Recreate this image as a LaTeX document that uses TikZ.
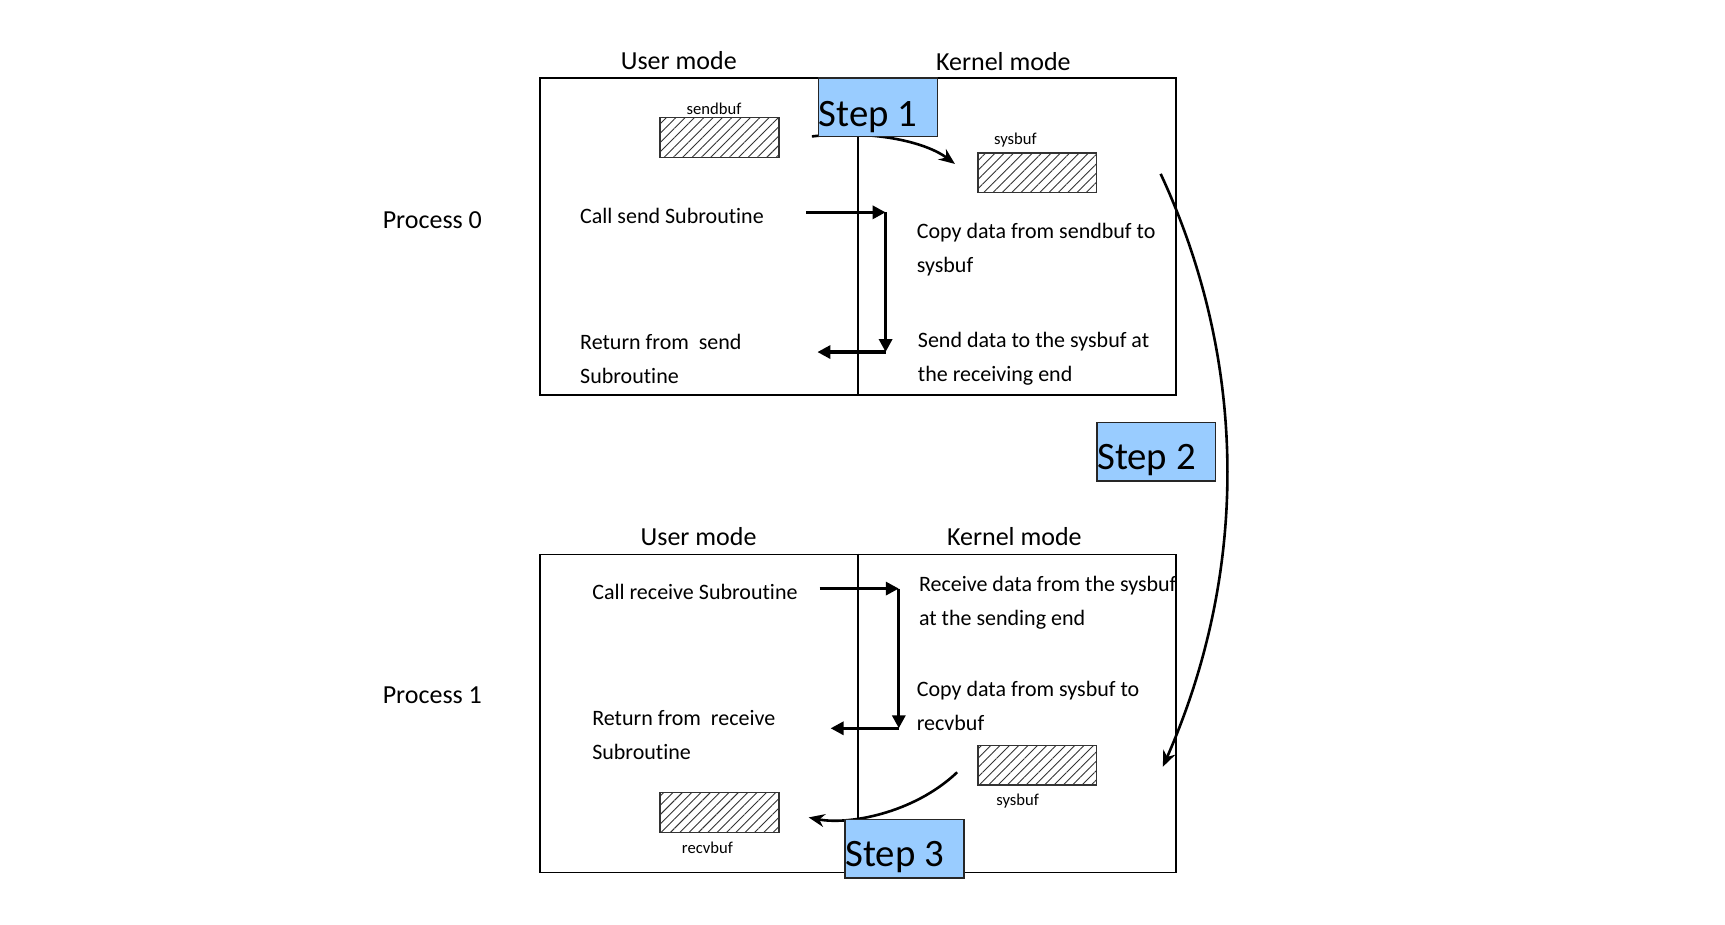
\documentclass[tikz,border=0pt]{standalone}
\usepackage{fontspec}
\setmainfont{Carlito}[Ligatures=NoCommon]
\usetikzlibrary{patterns.meta, arrows.meta}
\definecolor{stepblue}{HTML}{99CCFF}
\begin{document}
\begin{tikzpicture}[x=0.55pt, y=-0.55pt,
  frame/.style={draw, line width=0.75pt, minimum width=317.9pt, inner sep=0},
  buf/.style={draw=black!80, line width=0.6pt, pattern={Lines[angle=45,distance=3.3pt,line width=0.45pt]}, pattern color=black!80, minimum width=59.4pt, minimum height=19.8pt, inner sep=0},
  txt/.style={font=\fontsize{11}{17}\selectfont, align=left, anchor=west, inner sep=0},
  head/.style={font=\fontsize{13}{15}\selectfont, inner sep=0},
  small/.style={font=\fontsize{8.3}{10}\selectfont, inner sep=0},
  stepbox/.style={draw=black!85, fill=stepblue, line width=0.8pt, minimum width=59.4pt, minimum height=29.15pt, inner sep=0},
  steptext/.style={font=\fontsize{19.4}{22}\selectfont, anchor=base west, inner sep=0},
  flow/.style={-{Triangle[length=6.5pt,width=6.5pt]}, line width=1.6pt},
  curve/.style={-{Stealth[length=8pt,width=6.5pt]}, line width=1.3pt}]
\useasboundingbox (0,0) rectangle (1568,840);

% frames
\node[frame, minimum height=158.4pt] (box0) at (780,215) {};
\node[frame, minimum height=158.95pt] (box1) at (780,648.5) {};

% headers
\node[head] (um0) at (617,55) {User mode};
\node[head] (km0) at (912,56) {Kernel mode};
\node[head] (um1) at (635,488) {User mode};
\node[head] (km1) at (922,488) {Kernel mode};
\node[head] (p0) at (393,200) {Process 0};
\node[head] (p1) at (393,632) {Process 1};

% buffers
\node[buf] (sendbuf) at (654,125) {};
\node[small] (sendbufl) at (649,99) {sendbuf};
\node[buf] (sysbuf0) at (943,157) {};
\node[small] (sysbuf0l) at (923,127) {sysbuf};
\node[buf] (sysbuf1) at (943,695.5) {};
\node[small] (sysbuf1l) at (925,728) {sysbuf};
\node[buf] (recvbuf) at (654,738.5) {};
\node[small] (recvbufl) at (643,771) {recvbuf};

% texts top
\node[txt] (callsend) at (527,196) {Call send Subroutine};
\node[txt] (copy0) at (833,226.5) {Copy data from sendbuf to\\sysbuf};
\node[txt] (ret0) at (527,326.5) {Return from\ \ send\\Subroutine};
\node[txt] (send0) at (834,326.5) {Send data to the sysbuf at\\the receiving end};

% texts bottom
\node[txt] (callrecv) at (538,538) {Call receive Subroutine};
\node[txt] (recv1) at (835,547.5) {Receive data from the sysbuf\\at the sending end};
\node[txt] (copy1) at (833,641.5) {Copy data from sysbuf to\\recvbuf};
\node[txt] (ret1) at (538,668.5) {Return from\ \ receive\\Subroutine};

% L-shaped flows
\coordinate (a1) at (733,193);
\coordinate (c1) at (805,193);
\coordinate (c2) at (805,320);
\coordinate (a2) at (743,320);
\draw[flow] (a1) -- (c1);
\draw[flow] (c1) -- (c2);
\draw[flow] (c2) -- (a2);

\coordinate (b1) at (745,535);
\coordinate (d1) at (817,535);
\coordinate (d2) at (817,662);
\coordinate (b2) at (755,662);
\draw[flow] (b1) -- (d1);
\draw[flow] (d1) -- (d2);
\draw[flow] (d2) -- (b2);

% curved arrows
\coordinate (s1a) at (738,124);
\coordinate (s1b) at (868,149);
\draw[curve] (s1a) .. controls (790,118) and (840,128) .. (s1b);

\coordinate (s2a) at (1055,158);
\coordinate (s2b) at (1057,697);
\draw[curve] (s2a) .. controls (1135,330) and (1135,520) .. (s2b);

\coordinate (s3a) at (870,702);
\coordinate (s3b) at (735,743);
\draw[curve] (s3a) .. controls (830,740) and (770,750) .. (s3b);

% step boxes
\node[stepbox] (s1) at (798,97.5) {};
\node[steptext] (s1t) at (744,115) {Step 1};
\node[stepbox] (s2) at (1051,410.5) {};
\node[steptext] (s2t) at (997,427) {Step 2};
\node[stepbox] (s3) at (822,771.5) {};
\node[steptext] (s3t) at (768,788) {Step 3};

% dividers
\draw[line width=0.75pt] (box0.center |- s1.south) -- (box0.south);
\draw[line width=0.75pt] (box1.north) -- (box1.center |- s3.north);
\end{tikzpicture}
\end{document}
